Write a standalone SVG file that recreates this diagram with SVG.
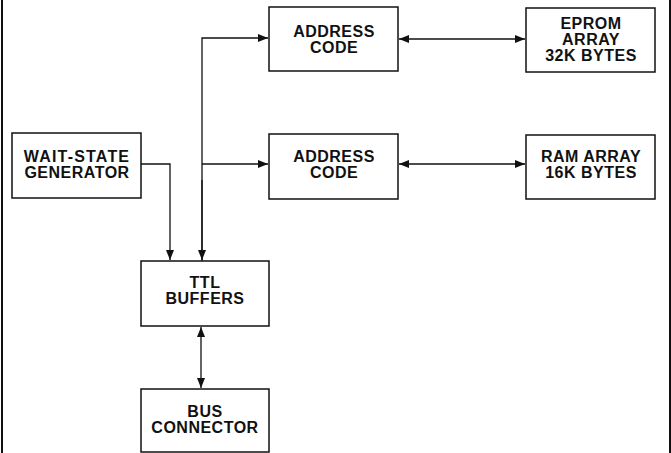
<svg xmlns="http://www.w3.org/2000/svg" width="671" height="453" viewBox="0 0 671 453">
<defs>
<style>
.box{fill:#fff;stroke:#111;stroke-width:1.5}
.t{font-family:"Liberation Sans",Arial,sans-serif;font-weight:bold;font-size:16px;letter-spacing:0.5px;fill:#111;text-anchor:middle}
.c{fill:none;stroke:#111;stroke-width:1.3}
.frame{stroke:#111;stroke-width:2}
</style>
<marker id="ah" viewBox="0 0 10 8" refX="10" refY="4" markerWidth="10" markerHeight="8" markerUnits="userSpaceOnUse" orient="auto-start-reverse">
<path d="M0,0 L10,4 L0,8 Z" fill="#111"/>
</marker>
</defs>
<rect width="671" height="453" fill="#fff"/>
<line class="frame" x1="2" y1="0" x2="2" y2="453"/>
<line class="frame" x1="670" y1="0" x2="670" y2="453"/>
<g id="connectors">
<path class="c" d="M202,261 V38 H268" marker-end="url(#ah)"/>
<path class="c" d="M202,164 H268" marker-end="url(#ah)"/>
<path class="c" d="M202,180 V260" marker-end="url(#ah)"/>
<path class="c" d="M141,164 H170 V260" marker-end="url(#ah)"/>
<path class="c" d="M399,39 H525" marker-start="url(#ah)" marker-end="url(#ah)"/>
<path class="c" d="M399,164 H525" marker-start="url(#ah)" marker-end="url(#ah)"/>
<path class="c" d="M201,327 V388" marker-start="url(#ah)" marker-end="url(#ah)"/>
</g>
<g id="addr1"><rect class="box" x="269" y="7" width="129" height="64"/><text class="t" x="334" y="37">ADDRESS</text><text class="t" x="334" y="53">CODE</text></g>
<g id="eprom"><rect class="box" x="526" y="8" width="129" height="64"/><text class="t" x="591" y="29">EPROM</text><text class="t" x="591" y="45">ARRAY</text><text class="t" x="591" y="61">32K BYTES</text></g>
<g id="addr2"><rect class="box" x="269" y="134" width="129" height="65"/><text class="t" x="334" y="162">ADDRESS</text><text class="t" x="334" y="178">CODE</text></g>
<g id="ram"><rect class="box" x="526" y="135" width="129" height="64"/><text class="t" x="591" y="162">RAM ARRAY</text><text class="t" x="591" y="178">16K BYTES</text></g>
<g id="wait"><rect class="box" x="12" y="133" width="129" height="65"/><text class="t" x="77" y="162" style="letter-spacing:1.2px">WAIT-STATE</text><text class="t" x="77" y="178">GENERATOR</text></g>
<g id="ttl"><rect class="box" x="141" y="261" width="128" height="65"/><text class="t" x="205" y="288">TTL</text><text class="t" x="205" y="304">BUFFERS</text></g>
<g id="bus"><rect class="box" x="141" y="389" width="128" height="63"/><text class="t" x="205" y="417">BUS</text><text class="t" x="205" y="433">CONNECTOR</text></g>
</svg>
